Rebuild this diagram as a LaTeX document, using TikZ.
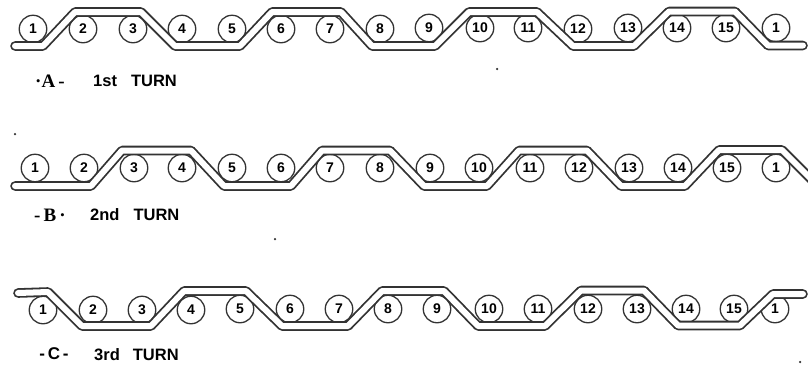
\documentclass[tikz,border=0pt]{standalone}
\usepackage{fontspec}
\setmainfont{Liberation Sans}
\newfontfamily\serifmark{Liberation Serif}
\definecolor{inkgray}{HTML}{333333}
\begin{document}
\begin{tikzpicture}[
    x=1pt, y=-1pt, % 808x365, y runs downward
    wheel/.style={
        circle, draw=inkgray, fill=white,
        line width=1.3pt,
        minimum size=27.5pt,
        inner sep=0pt,
        text=black,
        font=\fontsize{14}{14}\selectfont\bfseries
    },
    strip/.style={
        draw=inkgray,
        line width=1.8pt,
        double=white,
        double distance=6pt,
        line join=round,
        line cap=round
    },
    turnmark/.style={inner sep=0pt, font=\fontsize{19}{19}\selectfont\serifmark\bfseries},
    turnlabel/.style={inner sep=0pt, anchor=west, font=\fontsize{16.5}{16.5}\selectfont\bfseries},
    speck/.style={circle, fill=inkgray, inner sep=0pt, minimum size=2.5pt}
]
  \useasboundingbox (0,0) rectangle (808,365);

  % first row
  \node[wheel] (a1) at (33,29) {1};
  \node[wheel] (a2) at (83,29) {2};
  \node[wheel] (a3) at (133,29) {3};
  \node[wheel] (a4) at (182,29) {4};
  \node[wheel] (a5) at (232,29) {5};
  \node[wheel] (a6) at (281,29) {6};
  \node[wheel] (a7) at (330,29) {7};
  \node[wheel] (a8) at (380,29) {8};
  \node[wheel] (a9) at (429,28) {9};
  \node[wheel] (a10) at (480,28) {10};
  \node[wheel] (a11) at (528,28) {11};
  \node[wheel] (a12) at (578,29) {12};
  \node[wheel] (a13) at (628,28) {13};
  \node[wheel] (a14) at (677,28) {14};
  \node[wheel] (a15) at (726,28) {15};
  \node[wheel] (a16) at (776,28) {1};
  \draw[strip] (15,46) -- (43,46) -- (75,12) -- (141,12) -- (175,46) -- (240,46)
    -- (272,12) -- (341,12) -- (372,46) -- (435,46) -- (469,12) -- (537,12)
    -- (573,46) -- (634,46) -- (669,11.5) -- (735,11.5) -- (768,45.5) -- (803,45.5);
  \node[turnmark] (markA) at (50,81) {·A\,-};
  \node[turnlabel] (turnA) at (93,81) {1st\hspace{14pt}TURN};

  % second row
  \node[wheel] (b1) at (35,168) {1};
  \node[wheel] (b2) at (84,168) {2};
  \node[wheel] (b3) at (134,168) {3};
  \node[wheel] (b4) at (182,168) {4};
  \node[wheel] (b5) at (232,168) {5};
  \node[wheel] (b6) at (281,168) {6};
  \node[wheel] (b7) at (330,168) {7};
  \node[wheel] (b8) at (380,168) {8};
  \node[wheel] (b9) at (430,168) {9};
  \node[wheel] (b10) at (479,168) {10};
  \node[wheel] (b11) at (530,168) {11};
  \node[wheel] (b12) at (579,168) {12};
  \node[wheel] (b13) at (629,168) {13};
  \node[wheel] (b14) at (678,168) {14};
  \node[wheel] (b15) at (727,168) {15};
  \node[wheel] (b16) at (776,168) {1};
  \draw[strip] (15,186) -- (91,186) -- (122,150.5) -- (191,150.5) -- (224,186) -- (291,186)
    -- (322,150.5) -- (390,150.5) -- (424,186) -- (487,186) -- (519,150.5) -- (587,150.5)
    -- (621,186) -- (685,186) -- (719,150) -- (782,150) -- (812,180);
  \node[turnmark] (markB) at (50,215) {-\,B\,·};
  \node[turnlabel] (turnB) at (90,215) {2nd\hspace{14pt}TURN};

  % third row
  \node[wheel] (c1) at (43,310) {1};
  \node[wheel] (c2) at (93,310) {2};
  \node[wheel] (c3) at (142,310) {3};
  \node[wheel] (c4) at (191,310) {4};
  \node[wheel] (c5) at (240,309) {5};
  \node[wheel] (c6) at (290,309) {6};
  \node[wheel] (c7) at (339,309) {7};
  \node[wheel] (c8) at (388,309) {8};
  \node[wheel] (c9) at (437,309) {9};
  \node[wheel] (c10) at (489,309) {10};
  \node[wheel] (c11) at (538,309) {11};
  \node[wheel] (c12) at (588,309) {12};
  \node[wheel] (c13) at (637,309) {13};
  \node[wheel] (c14) at (686,309) {14};
  \node[wheel] (c15) at (734,309) {15};
  \node[wheel] (c16) at (775,309) {1};
  \draw[strip] (18,293) -- (48,292) -- (82,326) -- (151,326) -- (184,291) -- (246,291)
    -- (282,326) -- (348,326) -- (382,291) -- (444,291) -- (478,326) -- (545,326)
    -- (581,290.5) -- (644,290.5) -- (678,325.5) -- (740,325.5) -- (773,294) -- (803,294);
  \node[turnmark, font=\fontsize{17}{17}\selectfont\bfseries] (markC) at (54,354) {-\,C\,-};
  \node[turnlabel] (turnC) at (94,355) {3rd\hspace{13pt}TURN};

  % stray marks of the print
  \node[speck] (speckA) at (497,69) {};
  \node[speck] (speckB) at (15,134) {};
  \node[speck] (speckC) at (275,239) {};
  \node[speck] (speckD) at (800,362) {};
\end{tikzpicture}
\end{document}
